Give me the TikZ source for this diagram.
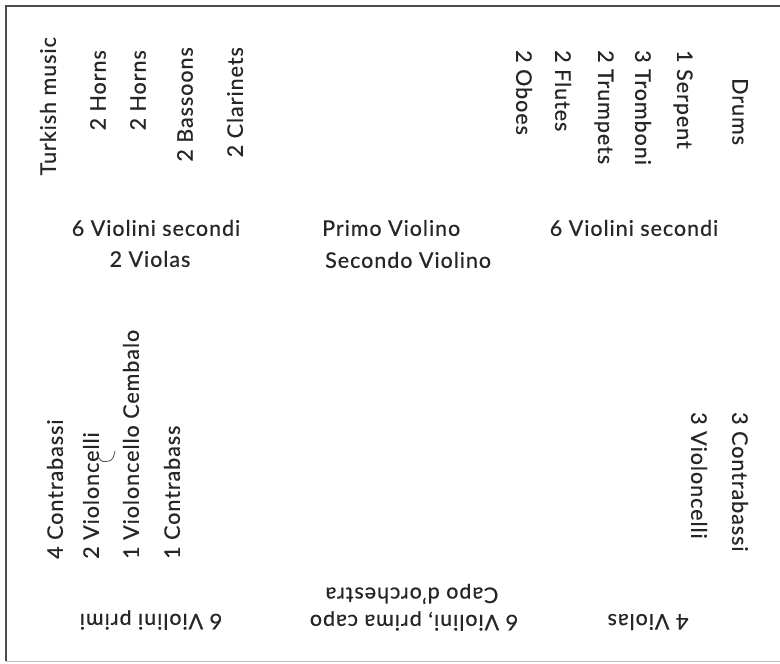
\documentclass[tikz,border=0pt]{standalone}
\usepackage{fontspec}
\setmainfont{Lato}[LetterSpace=4.5, FakeBold=0.5]
\begin{document}
\begin{tikzpicture}[x=1pt,y=-1pt,
  lbl/.style={font=\fontsize{21.5}{24}\selectfont, text=black!85, inner sep=0pt},
  up/.style={lbl, rotate=90},
  down/.style={lbl, rotate=-90},
  flip/.style={lbl, rotate=180},
  frame/.style={draw=black!70, line width=2pt},
  thinframe/.style={draw=black!25, line width=0.8pt}]
\useasboundingbox (0,0) rectangle (780,664);
\fill[white] (0,0) rectangle (780,664);
% frame
\coordinate (bl) at (6,661);
\coordinate (tl) at (6,6);
\coordinate (tr) at (780,6);
\coordinate (br) at (780,661);
\draw[frame] (bl) -- (tl) -- (tr);
\draw[thinframe] (bl) -- (br);
% top left, reading upward
\node[up, anchor=east] (tm) at (48,37) {Turkish music};
\node[up, anchor=east] (h1) at (98,50) {2 Horns};
\node[up, anchor=east] (h2) at (138,50) {2 Horns};
\node[up, anchor=east] (bs) at (185,47) {2 Bassoons};
\node[up, anchor=east] (cl) at (235,47) {2 Clarinets};
% top right, reading downward
\node[down, anchor=west] (dr) at (740,78) {Drums};
\node[down, anchor=west] (se) at (683,50) {1 Serpent};
\node[down, anchor=west] (tb) at (643,50) {3 Tromboni};
\node[down, anchor=west] (tp) at (604,50) {2 Trumpets};
\node[down, anchor=west] (fl) at (563,50) {2 Flutes};
\node[down, anchor=west] (ob) at (524,50) {2 Oboes};
% middle
\node[lbl] (vs1) at (156,228) {6 Violini secondi};
\node[lbl] (va2) at (150,259) {2 Violas};
\node[lbl, anchor=west] (pv) at (322,228) {Primo Violino};
\node[lbl, anchor=west] (sv) at (325,260) {Secondo Violino};
\node[lbl] (vs2) at (634,228) {6 Violini secondi};
% bottom left, reading upward
\node[up, anchor=west] (cb4) at (55,559) {4 Contrabassi};
\node[up, anchor=west] (vc2) at (91,559) {2 Violoncelli};
\node[up, anchor=west] (vcc) at (131,559) {1 Violoncello Cembalo};
\node[up, anchor=west] (cb1) at (172,559) {1 Contrabass};
\draw[black!70, line width=0.8pt] (99,458) .. controls (101,462) and (104,462) .. (109,461) .. controls (113,460) and (114,456) .. (115,451);
% bottom right, reading downward
\node[down, anchor=west] (cb3) at (740,412) {3 Contrabassi};
\node[down, anchor=west] (vc3) at (699,412) {3 Violoncelli};
% bottom, upside down
\node[flip] (vp) at (151,620) {6 Violini primi};
\node[flip] (cap) at (412,594) {Capo d'orchestra};
\node[flip] (vpc) at (414,621) {6 Violini, prima capo};
\node[flip] (va4) at (648,622) {4 Violas};
\end{tikzpicture}
\end{document}
